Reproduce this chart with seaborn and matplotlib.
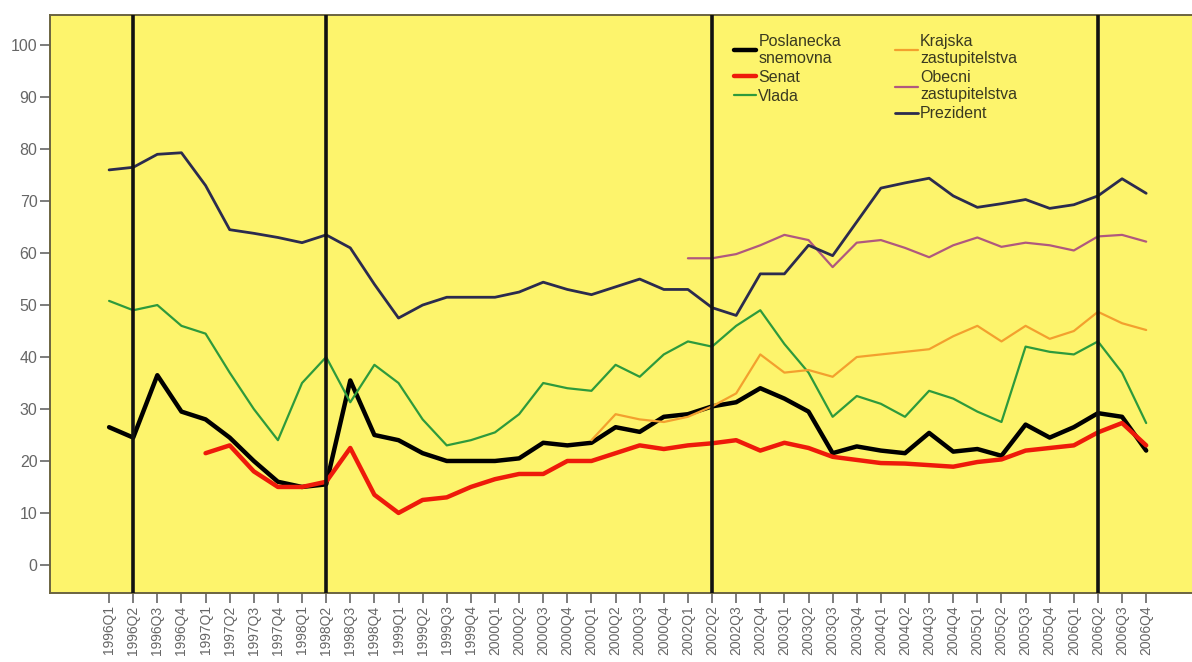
import numpy as np
import pandas as pd
import matplotlib
matplotlib.use("Agg")
import matplotlib.pyplot as plt
import seaborn as sns

quarters = ["1996Q1", "1996Q2", "1996Q3", "1996Q4", "1997Q1", "1997Q2", "1997Q3", "1997Q4",
            "1998Q1", "1998Q2", "1998Q3", "1998Q4", "1999Q1", "1999Q2", "1999Q3", "1999Q4",
            "2000Q1", "2000Q2", "2000Q3", "2000Q4", "2000Q1", "2000Q2", "2000Q3", "2000Q4",
            "2002Q1", "2002Q2", "2002Q3", "2002Q4", "2003Q1", "2003Q2", "2003Q3", "2003Q4",
            "2004Q1", "2004Q2", "2004Q3", "2004Q4", "2005Q1", "2005Q2", "2005Q3", "2005Q4",
            "2006Q1", "2006Q2", "2006Q3", "2006Q4"]

nan = np.nan
poslanecka = [26.5, 24.5, 36.5, 29.5, 28, 24.5, 20, 16, 15, 15.5, 35.5, 25,
              24, 21.5, 20, 20, 20, 20.5, 23.5, 23, 23.5, 26.5, 25.6, 28.5,
              29, 30.5, 31.3, 34, 32, 29.5, 21.5, 22.8, 22, 21.5, 25.4, 21.8,
              22.3, 21, 27, 24.5, 26.5, 29.2, 28.5, 22]
senat = [nan, nan, nan, nan, 21.5, 23, 18, 15, 15, 16, 22.5, 13.5,
         10, 12.5, 13, 15, 16.5, 17.5, 17.5, 20, 20, 21.5, 23, 22.3,
         23, 23.4, 24, 22, 23.5, 22.5, 20.8, 20.2, 19.6, 19.5, 19.2, 18.9,
         19.8, 20.3, 22, 22.5, 23, 25.5, 27.3, 23]
vlada = [50.8, 49, 50, 46, 44.5, 37, 30, 24, 35, 40, 31.3, 38.5,
         35, 28, 23, 24, 25.5, 29, 35, 34, 33.5, 38.5, 36.2, 40.5,
         43, 42, 46, 49, 42.5, 37, 28.5, 32.5, 31, 28.5, 33.5, 32,
         29.5, 27.5, 42, 41, 40.5, 43, 37, 27.3]
krajska = [nan] * 20 + [24, 29, 28, 27.5, 28.5, 30.5, 33, 40.5, 37, 37.5, 36.2, 40,
                        40.5, 41, 41.5, 44, 46, 43, 46, 43.5, 45, 48.7, 46.5, 45.2]
obecni = [nan] * 24 + [59, 59, 59.8, 61.5, 63.5, 62.5, 57.3, 62, 62.5, 61, 59.2, 61.5,
                       63, 61.2, 62, 61.5, 60.5, 63.2, 63.5, 62.2]
prezident = [76, 76.5, 79, 79.3, 73, 64.5, 63.8, 63, 62, 63.5, 61, 54,
             47.5, 50, 51.5, 51.5, 51.5, 52.5, 54.4, 53, 52, 53.5, 55, 53,
             53, 49.5, 48, 56, 56, 61.5, 59.5, 66, 72.5, 73.5, 74.4, 71,
             68.8, 69.5, 70.3, 68.6, 69.3, 71, 74.3, 71.5]

series_names = ["Poslanecka\nsnemovna", "Senat", "Vlada",
                "Krajska\nzastupitelstva", "Obecni\nzastupitelstva", "Prezident"]
series_values = [poslanecka, senat, vlada, krajska, obecni, prezident]
series_colors = ["#000000", "#ee1a0a", "#2e9a3c", "#f3a02e", "#b0587e", "#2b2b4e"]
series_widths = [3.2, 3.2, 1.6, 1.6, 1.6, 2.0]
vline_quarters = [1, 9, 25, 41]

sns.set_theme(style="white")
plt.rcParams["font.family"] = ["Liberation Sans", "DejaVu Sans"]

fig = plt.figure(figsize=(11.92, 6.62), dpi=100)
ax = fig.add_axes([50 / 1192, 1 - 593 / 662, 1 - 50 / 1192, (593 - 14.5) / 662])
ax.set_facecolor("#fdf46c")

x = np.arange(len(quarters))
for name, vals, col, lw in zip(series_names, series_values, series_colors, series_widths):
    df = pd.DataFrame({"q": x, "v": vals}).dropna()
    sns.lineplot(data=df, x="q", y="v", ax=ax, color=col, linewidth=lw, label=name,
                 sort=False, solid_joinstyle="round", solid_capstyle="round")

for q in vline_quarters:
    ax.axvline(q, color="#111111", linewidth=2.6, zorder=5)

ax.set_xlim(-2.45, 44.9)
ax.set_ylim(-5.4, 105.9)
ax.set_xticks(x)
ax.set_xticklabels(quarters, rotation=90, fontsize=10, color="#666666")
ax.set_yticks(np.arange(0, 101, 10))
ax.set_yticklabels([str(v) for v in range(0, 101, 10)], fontsize=11.5, color="#666666")
ax.tick_params(axis="both", which="both", length=7, width=1.2, color="#666666",
               bottom=True, left=True, pad=2)
ax.set_xlabel("")
ax.set_ylabel("")
for side in ["left", "bottom", "top"]:
    ax.spines[side].set_color("#6b6440")
    ax.spines[side].set_linewidth(1.4)
ax.spines["right"].set_visible(False)

leg = ax.legend(loc="upper left", bbox_to_anchor=(0.593, 0.978), ncol=2, frameon=False,
                fontsize=11.5, handlelength=1.4, handletextpad=0.15, columnspacing=3.4,
                labelspacing=0.25, borderaxespad=0)
for t in leg.get_texts():
    t.set_color("#3a3a20")

fig.savefig("out.png", dpi=100)
